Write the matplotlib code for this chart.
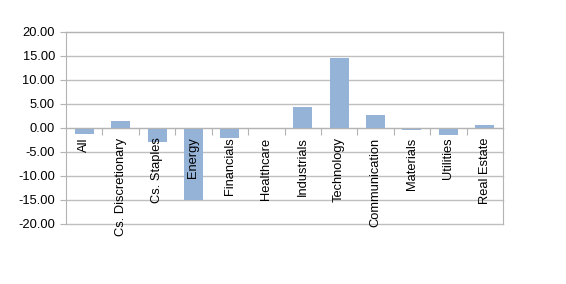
import matplotlib
matplotlib.use("Agg")
import matplotlib.pyplot as plt
import matplotlib.transforms as mtransforms

categories = ["All", "Cs. Discretionary", "Cs. Staples", "Energy", "Financials",
              "Healthcare", "Industrials", "Technology", "Communication",
              "Materials", "Utilities", "Real Estate"]
values = [-1.4, 1.4, -3.0, -15.1, -2.1, 0.0, 4.3, 14.5, 2.6, -0.5, -1.5, 0.5]
yticks = [20, 15, 10, 5, 0, -5, -10, -15, -20]

plt.rcParams['font.family'] = ['Liberation Sans', 'DejaVu Sans']
plt.rcParams['font.size'] = 9.3

fig = plt.figure(figsize=(5.66, 2.84), dpi=100)
ax = fig.add_axes([66/566, 1-224/284, (503-66)/566, (224-31.5)/284])

x = list(range(len(categories)))
ax.bar(x, values, width=0.52, color="#95B3D7", zorder=2)

ax.set_xlim(-0.5, len(categories) - 0.5)
ax.set_ylim(-20, 20)
ax.set_yticks(yticks)
ax.set_yticklabels([f"{v:.2f}" for v in yticks])
ax.yaxis.grid(True, color="#BFBFBF", linewidth=1)
ax.set_axisbelow(True)
for gl in ax.get_ygridlines():
    gl.set_clip_on(False)

gray = "#B3B3B3"
for s in ["left", "right", "top", "bottom"]:
    ax.spines[s].set_color(gray)
ax.spines["bottom"].set_position(("data", 0))
ax.set_xticks([i - 0.5 for i in range(1, len(categories))])
ax.set_xticklabels([])
ax.tick_params(axis="x", direction="out", length=5, color=gray)
ax.tick_params(axis="y", direction="out", length=4, color=gray, pad=4, labelcolor="black")

offset = mtransforms.offset_copy(ax.transData, fig=fig, x=0, y=-7, units="points")
for i, lab in enumerate(categories):
    ax.text(i, 0, lab, rotation=90, ha="center", va="top", transform=offset,
            fontsize=9.3, zorder=3, clip_on=False)

fig.savefig("out.png", dpi=100)
